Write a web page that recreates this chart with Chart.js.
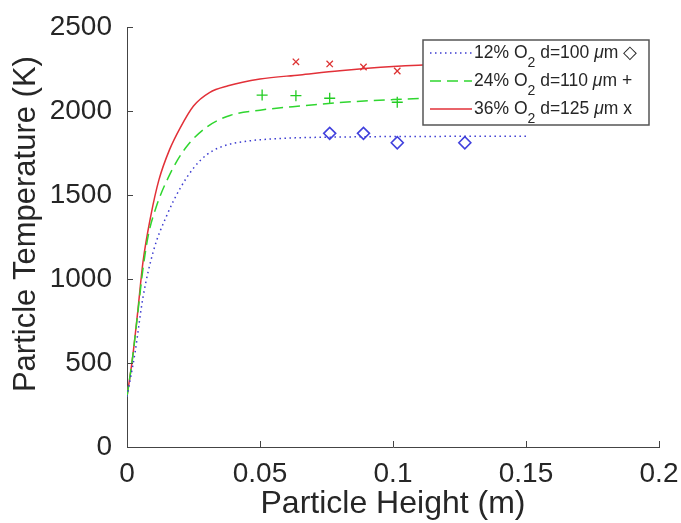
<!DOCTYPE html>
<html>
<head>
<meta charset="utf-8">
<script src="https://cdn.jsdelivr.net/npm/chart.js@4.4.1/dist/chart.umd.min.js"></script>
<style>
	html, body { margin: 0; padding: 0; background: #fff; }
	#wrap { width: 681px; height: 523px; }
</style>
</head>
<body>
<div id="wrap"><canvas id="chart_1" width="681" height="523"></canvas></div>
<script>
// model curves (height in m, temperature in K)
var height12 = [0, 0.003, 0.006, 0.01, 0.015, 0.02, 0.025, 0.03, 0.036, 0.045, 0.06, 0.08, 0.1, 0.12, 0.151];
var temp12 = [300, 560, 890, 1170, 1380, 1540, 1660, 1740, 1790, 1820, 1838, 1845, 1848, 1849, 1850];
var height24 = [0, 0.002, 0.004, 0.006, 0.008, 0.011, 0.016, 0.022, 0.03, 0.039, 0.05, 0.065, 0.08, 0.1, 0.12, 0.15];
var temp24 = [300, 520, 790, 1060, 1260, 1430, 1620, 1780, 1905, 1975, 2005, 2030, 2050, 2068, 2078, 2085];
var height36 = [0, 0.002, 0.004, 0.006, 0.009, 0.012, 0.016, 0.02, 0.025, 0.031, 0.038, 0.05, 0.065, 0.08, 0.1, 0.12, 0.15];
var temp36 = [300, 520, 800, 1100, 1380, 1590, 1770, 1900, 2030, 2110, 2150, 2190, 2215, 2240, 2265, 2280, 2290];

// measurements
var measH12 = [0.0762, 0.0889, 0.1016, 0.127];
var measT12 = [1867, 1867, 1811, 1811];
var measH24 = [0.0508, 0.0635, 0.0762, 0.1016];
var measT24 = [2095, 2091, 2076, 2052];
var measH36 = [0.0635, 0.0762, 0.0889, 0.1016];
var measT36 = [2293, 2280, 2262, 2238];

var legendParts = [
	{pct: '12%', rest: ' d=100 ', sym: ' \u25C7'},
	{pct: '24%', rest: ' d=110 ', sym: ' +'},
	{pct: '36%', rest: ' d=125 ', sym: ' x'}
];

function pts(xs, ys) {
	var out = [];
	for (var i = 0; i < xs.length; i++) out.push({x: xs[i], y: ys[i]});
	return out;
}

var FONT = "'Liberation Sans', Arial, Helvetica, sans-serif";
var TXT = '#262626';

// inward tick marks, matlab style
var inwardTicks = {
	id: 'inwardTicks',
	afterDraw: function(chart) {
		var c = chart.ctx, a = chart.chartArea;
		c.save();
		c.strokeStyle = '#444';
		c.lineWidth = 1;
		chart.scales.x.ticks.forEach(function(t) {
			var p = Math.round(chart.scales.x.getPixelForValue(t.value)) + 0.5;
			c.beginPath(); c.moveTo(p, a.bottom); c.lineTo(p, a.bottom - 6); c.stroke();
		});
		chart.scales.y.ticks.forEach(function(t) {
			var p = Math.round(chart.scales.y.getPixelForValue(t.value)) + 0.5;
			c.beginPath(); c.moveTo(a.left, p); c.lineTo(a.left + 6, p); c.stroke();
		});
		c.restore();
	}
};

// boxed legend with subscripts
var boxLegend = {
	id: 'boxLegend',
	afterDraw: function(chart) {
		var c = chart.ctx;
		var bx = 423, by = 40, bw = 226, bh = 85;
		c.save();
		c.fillStyle = '#fff';
		c.fillRect(bx, by, bw, bh);
		c.strokeStyle = '#555';
		c.lineWidth = 1.5;
		c.strokeRect(bx, by, bw, bh);
		for (var i = 0; i < 3; i++) {
			var ds = chart.data.datasets[i];
			var y = 53 + i * 28;
			c.strokeStyle = ds.borderColor;
			c.lineWidth = ds.borderWidth;
			c.setLineDash(ds.borderDash || []);
			c.beginPath(); c.moveTo(430, y); c.lineTo(472, y); c.stroke();
			c.setLineDash([]);
			var p = legendParts[i];
			var x = 474;
			c.fillStyle = TXT;
			c.textBaseline = 'middle';
			c.font = '17.5px ' + FONT;
			var s = p.pct + ' O';
			c.fillText(s, x, y); x += c.measureText(s).width;
			c.font = '14px ' + FONT;
			c.fillText('2', x, y + 10); x += c.measureText('2').width;
			c.font = '17.5px ' + FONT;
			c.fillText(p.rest, x, y); x += c.measureText(p.rest).width;
			c.font = 'italic 17.5px ' + FONT;
			c.fillText('\u03BC', x, y); x += c.measureText('\u03BC').width;
			c.font = '17.5px ' + FONT;
			c.fillText('m' + p.sym, x, y);
		}
		c.restore();
	}
};

var ctx_1 = document.getElementById('chart_1').getContext('2d');

var chart_1 = new Chart(ctx_1, {
	type: 'scatter',
	data: {
		datasets: [
		{label: '12% O2', data: pts(height12, temp12), showLine: true, pointRadius: 0,
		borderColor: '#3b3bd0', borderWidth: 1.5, borderDash: [1.5, 3.5], cubicInterpolationMode: 'monotone'},
		{label: '24% O2', data: pts(height24, temp24), showLine: true, pointRadius: 0,
		borderColor: '#2fd62f', borderWidth: 1.5, borderDash: [11, 6], cubicInterpolationMode: 'monotone'},
		{label: '36% O2', data: pts(height36, temp36), showLine: true, pointRadius: 0,
		borderColor: '#e23038', borderWidth: 1.5, cubicInterpolationMode: 'monotone'},
		{label: 'meas 12', data: pts(measH12, measT12), pointStyle: 'rectRot', pointRadius: 6,
		borderColor: '#4040dd', backgroundColor: 'rgba(0,0,0,0)', borderWidth: 1.6},
		{label: 'meas 24', data: pts(measH24, measT24), pointStyle: 'cross', pointRadius: 5.5,
		borderColor: '#22cc22', borderWidth: 1.3},
		{label: 'meas 36', data: pts(measH36, measT36), pointStyle: 'crossRot', pointRadius: 4.5,
		borderColor: '#dd3333', borderWidth: 1.3}
		]
	},
	options: {
		responsive: false,
		animation: false,
		layout: {padding: {left: 0, right: 22, top: 27, bottom: 0}},
		plugins: {
			legend: {display: false},
			tooltip: {enabled: false}
		},
		scales: {
			x: {
				type: 'linear', min: 0, max: 0.2,
				afterFit: function(s) { s.height = 76; s.paddingLeft = 0; s.paddingRight = 0; },
				grid: {display: false, drawTicks: false},
				border: {display: true, color: '#444', width: 1},
				ticks: {stepSize: 0.05, padding: 10, color: TXT, font: {family: FONT, size: 28},
					maxRotation: 0,
					callback: function(v) { return String(+v.toFixed(2)); }},
				title: {display: true, text: 'Particle Height (m)', color: TXT,
					font: {family: FONT, size: 32}, padding: {top: 0, bottom: 0}}
			},
			y: {
				type: 'linear', min: 0, max: 2500,
				afterFit: function(s) { s.width = 127; s.paddingTop = 0; s.paddingBottom = 0; },
				grid: {display: false, drawTicks: false},
				border: {display: true, color: '#444', width: 1},
				ticks: {stepSize: 500, padding: 15, color: TXT, font: {family: FONT, size: 28},
					callback: function(v) { return String(v); }},
				title: {display: true, text: '   Particle Temperature (K)', color: TXT,
					font: {family: FONT, size: 31}, padding: {top: 8, bottom: 0}}
			}
		}
	},
	plugins: [inwardTicks, boxLegend]
});
</script>
</body>
</html>
